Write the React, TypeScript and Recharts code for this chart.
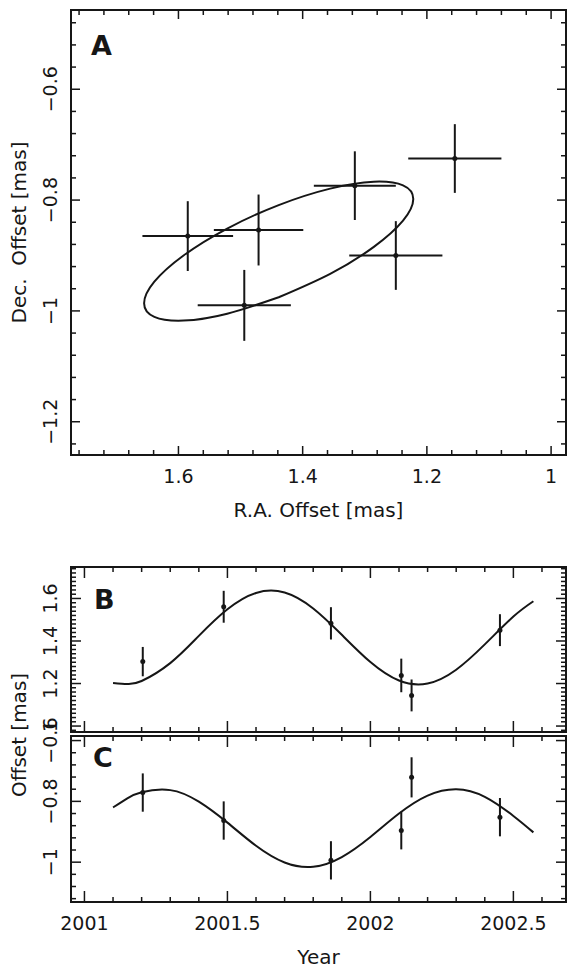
import React from "react";
import {
  ComposedChart,
  ErrorBar,
  Label,
  Line,
  ReferenceArea,
  Scatter,
  XAxis,
  YAxis,
} from "recharts";

// Panel A: sky positions (mas)
const raOffset = [1.585, 1.471, 1.494, 1.316, 1.25, 1.155];
const decOffset = [-0.865, -0.854, -0.99, -0.774, -0.9, -0.725];
const raError = [0.073, 0.072, 0.075, 0.066, 0.075, 0.075];
const decError = [0.063, 0.064, 0.064, 0.062, 0.062, 0.062];

// fitted ellipse, points
const ellipseRa = [
  1.4386, 1.5215, 1.5918, 1.6388, 1.6553, 1.6388, 1.5918, 1.5215, 1.4386,
  1.3557, 1.2854, 1.2384, 1.2219, 1.2384, 1.2854, 1.3557, 1.4386,
];
const ellipseDec = [
  -0.9754, -1.0051, -1.0175, -1.0108, -0.9862, -0.9472, -0.8999, -0.8513,
  -0.809, -0.7793, -0.7669, -0.7736, -0.7982, -0.8372, -0.8845, -0.9331,
  -0.9754,
];

// Panels B and C: offsets against time
const epochs = [2001.204, 2001.487, 2001.862, 2002.108, 2002.144, 2002.453];
const raSeries = [1.303, 1.561, 1.483, 1.238, 1.144, 1.451];
const raSeriesError = [0.069, 0.075, 0.076, 0.079, 0.075, 0.075];
const decSeries = [-0.771, -0.863, -0.994, -0.896, -0.721, -0.852];
const decSeriesError = [0.063, 0.063, 0.063, 0.062, 0.066, 0.063];

const modelYears = [
  2001.1, 2001.15, 2001.2, 2001.3, 2001.4, 2001.5, 2001.6, 2001.7, 2001.8,
  2001.9, 2002.0, 2002.1, 2002.2, 2002.3, 2002.4, 2002.5, 2002.57,
];
const raModel = [
  1.203, 1.198, 1.212, 1.296, 1.424, 1.549, 1.626, 1.628, 1.553, 1.429, 1.301,
  1.214, 1.2, 1.265, 1.384, 1.515, 1.587,
];
const decModel = [
  -0.82, -0.79, -0.77, -0.763, -0.801, -0.87, -0.946, -1.001, -1.015, -0.983,
  -0.917, -0.84, -0.781, -0.76, -0.785, -0.848, -0.902,
];

// ticks
const raTicks = [
  1, 1.04, 1.08, 1.12, 1.16, 1.2, 1.24, 1.28, 1.32, 1.36, 1.4, 1.44, 1.48,
  1.52, 1.56, 1.6, 1.64, 1.68, 1.72, 1.76,
];
const raLabels = [1, 1.2, 1.4, 1.6];
const decTicks = [
  -1.24, -1.2, -1.16, -1.12, -1.08, -1.04, -1, -0.96, -0.92, -0.88, -0.84,
  -0.8, -0.76, -0.72, -0.68, -0.64, -0.6, -0.56, -0.52, -0.48,
];
const decLabels = [-1.2, -1, -0.8, -0.6];
const yearTicks = [
  2001, 2001.1, 2001.2, 2001.3, 2001.4, 2001.5, 2001.6, 2001.7, 2001.8,
  2001.9, 2002, 2002.1, 2002.2, 2002.3, 2002.4, 2002.5, 2002.6,
];
const yearLabels = [2001, 2001.5, 2002, 2002.5];
const raSeriesTicks = [
  0.98, 1, 1.02, 1.04, 1.06, 1.08, 1.1, 1.12, 1.14, 1.16, 1.18, 1.2, 1.22,
  1.24, 1.26, 1.28, 1.3, 1.32, 1.34, 1.36, 1.38, 1.4, 1.42, 1.44, 1.46, 1.48,
  1.5, 1.52, 1.54, 1.56, 1.58, 1.6, 1.62, 1.64, 1.66, 1.68, 1.7, 1.72, 1.74,
];
const raSeriesLabels = [1, 1.2, 1.4, 1.6];
const decSeriesTicks = [
  -1.12, -1.08, -1.04, -1, -0.96, -0.92, -0.88, -0.84, -0.8, -0.76, -0.72,
  -0.68, -0.64, -0.6,
];
const decSeriesLabels = [-1, -0.8, -0.6];

const skyPoints = raOffset.map((x, i) => ({
  x,
  y: decOffset[i],
  ex: raError[i],
  ey: decError[i],
}));
const ellipse = ellipseRa.map((x, i) => ({ x, y: ellipseDec[i] }));
const raPoints = epochs.map((x, i) => ({ x, y: raSeries[i], ey: raSeriesError[i] }));
const decPoints = epochs.map((x, i) => ({ x, y: decSeries[i], ey: decSeriesError[i] }));
const raCurve = modelYears.map((x, i) => ({ x, y: raModel[i] }));
const decCurve = modelYears.map((x, i) => ({ x, y: decModel[i] }));

const INK = "#161616";
const FONT = "DejaVu Sans";
const WIDTH = 570;
const PLOT_RIGHT = 566;

function formatTick(value: number): string {
  return value < 0 ? `\u2212${Math.abs(value)}` : String(value);
}

function makeXTick(labels: number[], top: number, major: number, minor: number, showLabels: boolean) {
  return (props: any) => {
    const { x, y, payload } = props;
    const isMajor = labels.includes(payload.value);
    const len = isMajor ? major : minor;
    return (
      <g>
        <line x1={x} x2={x} y1={y} y2={y - len} stroke={INK} strokeWidth={1.5} />
        <line x1={x} x2={x} y1={top} y2={top + len} stroke={INK} strokeWidth={1.5} />
        {showLabels && isMajor && (
          <text x={x} y={y + 28} textAnchor="middle" fontSize={19} fontFamily={FONT} fill={INK}>
            {formatTick(payload.value)}
          </text>
        )}
      </g>
    );
  };
}

function makeYTick(labels: number[], major: number, minor: number) {
  return (props: any) => {
    const { x, y, payload } = props;
    const isMajor = labels.includes(payload.value);
    const len = isMajor ? major : minor;
    const lx = x - 21;
    return (
      <g>
        <line x1={x} x2={x + len} y1={y} y2={y} stroke={INK} strokeWidth={1.5} />
        <line x1={PLOT_RIGHT} x2={PLOT_RIGHT - len} y1={y} y2={y} stroke={INK} strokeWidth={1.5} />
        {isMajor && (
          <text
            x={lx}
            y={y}
            dy="0.36em"
            transform={`rotate(-90 ${lx} ${y})`}
            textAnchor="middle"
            fontSize={19}
            fontFamily={FONT}
            fill={INK}
          >
            {formatTick(payload.value)}
          </text>
        )}
      </g>
    );
  };
}

function panelLetter(letter: string, dx: number, dy: number) {
  return (props: any) => {
    const { viewBox } = props;
    return (
      <text
        x={viewBox.x + dx}
        y={viewBox.y + dy}
        fontSize={27}
        fontWeight="bold"
        fontFamily={FONT}
        fill={INK}
      >
        {letter}
      </text>
    );
  };
}

function yTitle(text: string, centerOffset?: number) {
  return (props: any) => {
    const { viewBox } = props;
    const cy = viewBox.y + (centerOffset ?? viewBox.height / 2);
    return (
      <text
        x={19}
        y={cy}
        dy="0.36em"
        transform={`rotate(-90 19 ${cy})`}
        textAnchor="middle"
        fontSize={20}
        fontFamily={FONT}
        fill={INK}
        style={{ whiteSpace: "pre" }}
      >
        {text}
      </text>
    );
  };
}

function xTitle(text: string) {
  return (props: any) => {
    const { viewBox } = props;
    return (
      <text
        x={viewBox.x + viewBox.width / 2}
        y={viewBox.y + 62}
        textAnchor="middle"
        fontSize={20}
        fontFamily={FONT}
        fill={INK}
      >
        {text}
      </text>
    );
  };
}

const dot = (props: any) => <circle cx={props.cx} cy={props.cy} r={2.5} fill={INK} />;

const raDomain: [number, number] = [0.976, 1.773];
const decDomain: [number, number] = [-1.26, -0.457];
const yearDomain: [number, number] = [2000.953, 2002.684];
const raSeriesDomain: [number, number] = [0.972, 1.748];
const decSeriesDomain: [number, number] = [-1.131, -0.585];

const TOP_A = 10;
const TOP_B = 10;
const TOP_C = 36;

export default function App() {
  return (
    <div
      style={{
        position: "absolute",
        left: 0,
        top: 0,
        width: WIDTH,
        height: 972,
        background: "#fff",
        fontFamily: FONT,
      }}
    >
      {/* Panel A */}
      <div style={{ position: "absolute", left: 0, top: 0 }}>
        <ComposedChart width={WIDTH} height={540} margin={{ top: TOP_A, right: 4, bottom: 0, left: 0 }}>
          <XAxis
            type="number"
            dataKey="x"
            domain={raDomain}
            allowDataOverflow
            reversed
            ticks={raTicks}
            interval={0}
            tickSize={0}
            tickMargin={0}
            axisLine={false}
            tickLine={false}
            height={85}
            tick={makeXTick(raLabels, TOP_A, 9, 5, true)}
          >
            <Label content={xTitle("R.A. Offset [mas]")} />
          </XAxis>
          <YAxis
            type="number"
            dataKey="y"
            domain={decDomain}
            allowDataOverflow
            ticks={decTicks}
            interval={0}
            tickSize={0}
            tickMargin={0}
            axisLine={false}
            tickLine={false}
            width={71}
            tick={makeYTick(decLabels, 9, 5)}
          >
            <Label content={yTitle("Dec.  Offset [mas]")} />
          </YAxis>
          <ReferenceArea
            x1={raDomain[0]}
            x2={raDomain[1]}
            y1={decDomain[0]}
            y2={decDomain[1]}
            fill="none"
            stroke={INK}
            strokeWidth={2}
            ifOverflow="visible"
          >
            <Label content={panelLetter("A", 20, 45)} />
          </ReferenceArea>
          <Line
            data={ellipse}
            dataKey="y"
            type="natural"
            stroke={INK}
            strokeWidth={2}
            dot={false}
            activeDot={false}
            isAnimationActive={false}
          />
          <Scatter data={skyPoints} dataKey="y" shape={dot} isAnimationActive={false}>
            <ErrorBar dataKey="ex" direction="x" width={0} stroke={INK} strokeWidth={2} />
            <ErrorBar dataKey="ey" direction="y" width={0} stroke={INK} strokeWidth={2} />
          </Scatter>
        </ComposedChart>
      </div>

      {/* Panel B */}
      <div style={{ position: "absolute", left: 0, top: 557 }}>
        <ComposedChart width={WIDTH} height={250} margin={{ top: TOP_B, right: 4, bottom: 67, left: 0 }}>
          <XAxis
            type="number"
            dataKey="x"
            domain={yearDomain}
            allowDataOverflow
            ticks={yearTicks}
            interval={0}
            tickSize={0}
            tickMargin={0}
            axisLine={false}
            tickLine={false}
            height={8}
            tick={makeXTick(yearLabels, TOP_B, 11, 5, false)}
          />
          <YAxis
            type="number"
            dataKey="y"
            domain={raSeriesDomain}
            allowDataOverflow
            ticks={raSeriesTicks}
            interval={0}
            tickSize={0}
            tickMargin={0}
            axisLine={false}
            tickLine={false}
            width={71}
            tick={makeYTick(raSeriesLabels, 10, 5)}
          >
            <Label content={yTitle("Offset [mas]", 168)} />
          </YAxis>
          <ReferenceArea
            x1={yearDomain[0]}
            x2={yearDomain[1]}
            y1={raSeriesDomain[0]}
            y2={raSeriesDomain[1]}
            fill="none"
            stroke={INK}
            strokeWidth={2}
            ifOverflow="visible"
          >
            <Label content={panelLetter("B", 23, 42)} />
          </ReferenceArea>
          <Line
            data={raCurve}
            dataKey="y"
            type="natural"
            stroke={INK}
            strokeWidth={2}
            dot={false}
            activeDot={false}
            isAnimationActive={false}
          />
          <Scatter data={raPoints} dataKey="y" shape={dot} isAnimationActive={false}>
            <ErrorBar dataKey="ey" direction="y" width={0} stroke={INK} strokeWidth={2} />
          </Scatter>
        </ComposedChart>
      </div>

      {/* Panel C */}
      <div style={{ position: "absolute", left: 0, top: 700 }}>
        <ComposedChart width={WIDTH} height={272} margin={{ top: TOP_C, right: 4, bottom: 0, left: 0 }}>
          <XAxis
            type="number"
            dataKey="x"
            domain={yearDomain}
            allowDataOverflow
            ticks={yearTicks}
            interval={0}
            tickSize={0}
            tickMargin={0}
            axisLine={false}
            tickLine={false}
            height={70}
            tick={makeXTick(yearLabels, TOP_C, 11, 5, true)}
          >
            <Label content={xTitle("Year")} />
          </XAxis>
          <YAxis
            type="number"
            dataKey="y"
            domain={decSeriesDomain}
            allowDataOverflow
            ticks={decSeriesTicks}
            interval={0}
            tickSize={0}
            tickMargin={0}
            axisLine={false}
            tickLine={false}
            width={71}
            tick={makeYTick(decSeriesLabels, 10, 5)}
          />
          <ReferenceArea
            x1={yearDomain[0]}
            x2={yearDomain[1]}
            y1={decSeriesDomain[0]}
            y2={decSeriesDomain[1]}
            fill="none"
            stroke={INK}
            strokeWidth={2}
            ifOverflow="visible"
          >
            <Label content={panelLetter("C", 22, 31)} />
          </ReferenceArea>
          <Line
            data={decCurve}
            dataKey="y"
            type="natural"
            stroke={INK}
            strokeWidth={2}
            dot={false}
            activeDot={false}
            isAnimationActive={false}
          />
          <Scatter data={decPoints} dataKey="y" shape={dot} isAnimationActive={false}>
            <ErrorBar dataKey="ey" direction="y" width={0} stroke={INK} strokeWidth={2} />
          </Scatter>
        </ComposedChart>
      </div>
    </div>
  );
}
